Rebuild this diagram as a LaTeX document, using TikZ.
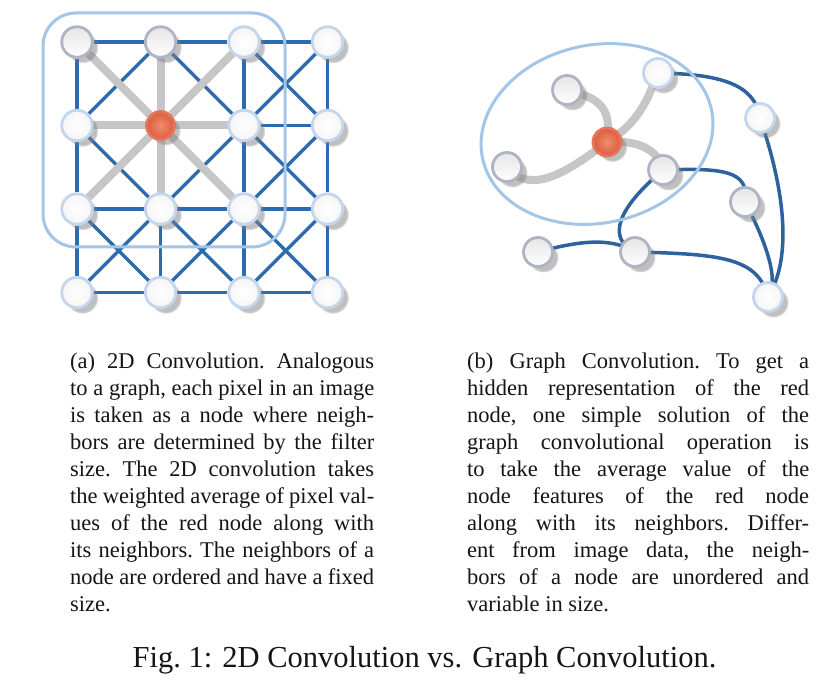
\documentclass[tikz,border=0pt]{standalone}
\usepackage{fontspec}
\setmainfont{Liberation Serif}
\usetikzlibrary{shadows,fadings}
\definecolor{edgeblue}{HTML}{2D6AAE}
\definecolor{edgeblue2}{HTML}{2D629E}
\definecolor{edgegray}{HTML}{C6C6C6}
\definecolor{hlblue}{HTML}{A3C6E8}
\definecolor{nodeblue}{HTML}{C4D6EC}
\definecolor{nodegray}{HTML}{AEB4C4}
\definecolor{redl}{HTML}{F08C6E}
\definecolor{redd}{HTML}{DC5C3E}
\definecolor{redb}{HTML}{E57558}
\definecolor{txt}{HTML}{151515}
\pgfdeclarelayer{bg}
\pgfsetlayers{bg,main}
\tikzset{
  vtx/.style={circle, minimum size=30.5pt, inner sep=0pt, line width=2.8pt,
    circular drop shadow={shadow xshift=5pt, shadow yshift=-5pt, opacity=.5, shadow scale=1.06}},
  wn/.style={vtx, draw=nodeblue, inner color=white, outer color=white!92!gray},
  gn/.style={vtx, draw=nodegray, top color=gray!20, bottom color=white},
  rn/.style={vtx, draw=redb, inner color=redl, outer color=redd, minimum size=28pt},
  small/.style={minimum size=29pt},
  bedge/.style={draw=edgeblue, line width=3.5pt},
  bedge2/.style={draw=edgeblue2, line width=3.5pt, line cap=round},
  gedge/.style={draw=edgegray, line width=8pt, line cap=round},
  hl/.style={draw=hlblue, line width=3pt},
  captxt/.style={anchor=base west, inner sep=0pt, text=txt,
    font=\fontsize{22.5}{27.1}\selectfont},
}
\newcommand{\jl}[2]{\makebox[#1][s]{#2}\par}
\begin{document}
\begin{tikzpicture}[x=1pt,y=-1pt]
\begin{pgfonlayer}{bg}
\fill[white] (0,0) rectangle (834,700);
\end{pgfonlayer}
\useasboundingbox (0,0) rectangle (834,700);

% ---------- (a) grid ----------
\foreach \i in {0,1,2,3}{
  \foreach \j in {0,1,2,3}{
    \pgfmathsetmacro{\px}{77+83.5*\i}
    \pgfmathsetmacro{\py}{42+83.5*\j}
    \ifnum\i\j=11
      \node[rn] (g\i\j) at (\px,\py) {};
    \else
      \ifnum\j=0
        \ifnum\i<2 \node[gn] (g\i\j) at (\px,\py) {};
        \else \node[wn] (g\i\j) at (\px,\py) {}; \fi
      \else
        \node[wn] (g\i\j) at (\px,\py) {};
      \fi
    \fi
  }
}
\begin{pgfonlayer}{bg}
\foreach \i [evaluate=\i as \ni using {int(\i+1)}] in {0,1,2}{
  \foreach \j in {0,1,2,3}{ \draw[bedge] (g\i\j) -- (g\ni\j); }
}
\foreach \j [evaluate=\j as \nj using {int(\j+1)}] in {0,1,2}{
  \foreach \i in {0,1,2,3}{ \draw[bedge] (g\i\j) -- (g\i\nj); }
}
\foreach \i [evaluate=\i as \ni using {int(\i+1)}] in {0,1,2}{
  \foreach \j [evaluate=\j as \nj using {int(\j+1)}] in {0,1,2}{
    \draw[bedge] (g\i\j) -- (g\ni\nj);
    \draw[bedge] (g\ni\j) -- (g\i\nj);
  }
}
\foreach \n in {00,10,20,01,21,02,12,22}{ \draw[gedge] (g11) -- (g\n); }
\end{pgfonlayer}
\draw[hl, rounded corners=33pt] (43,13) rectangle (285,247);

% ---------- (b) graph ----------
\node[wn, small] (A) at (658,73) {};
\node[gn, small] (B) at (567,90) {};
\node[rn] (R) at (607,142) {};
\node[gn, small] (C) at (507,167) {};
\node[gn, small] (D) at (663,170) {};
\node[wn, small] (E) at (760,118) {};
\node[gn, small] (F) at (745,202) {};
\node[gn, small] (G) at (538,252) {};
\node[gn, small] (H) at (635,252) {};
\node[wn, small] (I) at (768,297) {};
\begin{pgfonlayer}{bg}
\draw[gedge] (B.center) .. controls (600,98) and (612,108) .. (R.center);
\draw[gedge] (R.center) .. controls (640,122) and (648,98) .. (A.center);
\draw[gedge] (C.center) .. controls (530,196) and (568,172) .. (R.center);
\draw[gedge] (R.center) .. controls (640,140) and (658,150) .. (D.center);
\draw[bedge2] (A.center) .. controls (720,74) and (755,84) .. (E.center);
\draw[bedge2] (E.center) .. controls (788,200) and (790,262) .. (I.center);
\draw[bedge2] (D.center) .. controls (722,168) and (750,170) .. (F.center);
\draw[bedge2] (F.center) .. controls (765,240) and (780,280) .. (I.center);
\draw[bedge2] (D.center) .. controls (618,208) and (606,238) .. (H.center);
\draw[bedge2] (G.center) .. controls (575,242) and (610,236) .. (H.center);
\draw[bedge2] (H.center) .. controls (722,254) and (758,258) .. (I.center);
\end{pgfonlayer}
\draw[hl] (597,134) ellipse[x radius=117, y radius=89, rotate=12];

% ---------- captions ----------
\node[captxt] (capa) at (70,368) {\begin{minipage}[t]{304pt}\parindent=0pt\parskip=0pt\frenchspacing
\jl{304pt}{(a) 2D Convolution. Analogous}
\jl{304pt}{to a graph, each pixel in an image}
\jl{304pt}{is taken as a node where neigh-}
\jl{304pt}{bors are determined by the filter}
\jl{304pt}{size. The 2D convolution takes}
\jl{304pt}{the weighted average of pixel val-}
\jl{304pt}{ues of the red node along with}
\jl{304pt}{its neighbors. The neighbors of a}
\jl{304pt}{node are ordered and have a fixed}
size.\end{minipage}};

\node[captxt] (capb) at (467,368) {\begin{minipage}[t]{342pt}\parindent=0pt\parskip=0pt\frenchspacing
\jl{342pt}{(b) Graph Convolution. To get a}
\jl{342pt}{hidden representation of the red}
\jl{342pt}{node, one simple solution of the}
\jl{342pt}{graph convolutional operation is}
\jl{342pt}{to take the average value of the}
\jl{342pt}{node features of the red node}
\jl{342pt}{along with its neighbors. Differ-}
\jl{342pt}{ent from image data, the neigh-}
\jl{342pt}{bors of a node are unordered and}
variable in size.\end{minipage}};

\node[anchor=base, inner sep=0pt, text=txt, font=\fontsize{30.5}{36}\selectfont] (fig) at (424.5,667) {Fig.~1: 2D Convolution vs. Graph Convolution.};
\end{tikzpicture}
\end{document}
